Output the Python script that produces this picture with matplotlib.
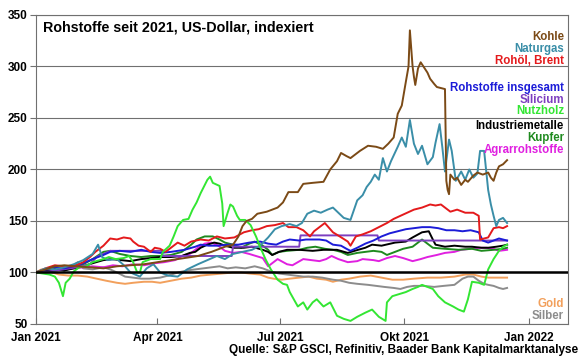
import numpy as np
import matplotlib
matplotlib.use("Agg")
import matplotlib.pyplot as plt

plt.rcParams['font.family'] = ['Liberation Sans', 'DejaVu Sans']

# (days since 2021-01-01, index value)
kohle = [(0,100),(7,103),(14,106),(21,107),(30,106),(40,105),(50,104),(60,106),(80,108),(100,112),
         (120,116),(130,120),(140,125),(146,127),(150,135),(153,145),(156,150),(160,152),(164,157),
         (171,159),(179,163),(183,168),(187,178),(194,178),(198,186),(205,187),(213,188),(218,200),
         (223,208),(226,216),(230,213),(233,211),(240,218),(246,223),(252,222),(257,220),(261,225),
         (265,231),(268,254),(271,262),(274,285),(276,300),(277,335),(279,300),(280,290),(281,282),
         (283,298),(285,304),(287,300),(290,294),(292,288),(295,283),(297,280),(300,279),(303,278),
         (304,189),(305,180),(306,176),(307,195),(310,190),(312,192),(315,185),(318,190),(320,188),
         (324,194),(327,197),(331,195),(335,197),(337,192),(339,189),(341,197),(343,203),(346,205),
         (349,209)]
naturgas = [(0,100),(7,104),(14,103),(21,105),(28,108),(35,112),(42,118),(46,127),(49,115),(53,112),
            (60,113),(66,106),(70,100),(77,96),(82,104),(87,108),(92,100),(98,97),(105,96),(112,103),
            (120,108),(127,112),(134,116),(140,113),(146,118),(153,120),(160,122),(166,126),(172,134),
            (177,142),(182,145),(188,147),(193,145),(197,148),(201,157),(206,160),(211,158),(216,161),
            (220,163),(224,158),(228,153),(233,151),(238,170),(242,175),(245,183),(248,188),(251,195),
            (254,190),(257,211),(260,198),(263,208),(268,222),(271,231),(274,222),(277,248),(280,225),
            (283,215),(286,223),(290,205),(294,212),(296,226),(299,244),(301,222),(303,198),(306,229),
            (308,218),(311,189),(315,198),(318,190),(321,200),(324,192),(327,196),(329,218),(332,218),
            (335,180),(337,166),(339,155),(341,145),(343,151),(346,153),(349,148)]
brent = [(0,100),(7,104),(14,107),(21,106),(28,106),(35,110),(40,115),(44,120),(50,126),(55,133),
         (60,132),(65,134),(70,133),(72,130),(76,126),(80,125),(85,120),(88,124),(92,123),(96,120),
         (100,124),(105,129),(110,126),(115,130),(122,132),(128,131),(134,135),(140,133),(147,134),
         (154,139),(160,141),(165,142),(171,145),(177,146),(183,148),(187,144),(193,144),(198,141),
         (203,135),(206,140),(211,145),(214,148),(220,139),(225,135),(231,130),(233,126),(237,135),
         (242,137),(248,140),(254,144),(260,148),(265,152),(270,155),(275,158),(280,161),(286,163),
         (292,166),(296,165),(300,166),(304,162),(307,159),(312,161),(318,158),(324,158),(328,155),
         (329,132),(332,133),(335,134),(339,143),(343,144),(346,143),(349,145)]
gesamt = [(0,100),(7,103),(14,105),(21,104),(28,106),(35,109),(42,113),(50,117),(55,120),(62,121),
          (70,120),(78,122),(85,120),(92,119),(100,120),(110,122),(118,125),(122,127),(128,126),
          (135,126),(142,127),(150,127),(158,129),(166,130),(172,128),(178,127),(183,130),(188,132),
          (195,131),(200,132),(210,132),(215,131),(220,127),(226,126),(230,123),(233,121),(238,124),
          (244,128),(250,131),(256,135),(262,138),(268,140),(274,142),(280,143),(286,144),(292,144),
          (298,143),(304,141),(310,141),(316,140),(322,141),(328,139),(331,131),(335,129),(339,131),
          (343,133),(346,132),(349,131)]
silicium = [(0,100),(10,101),(20,103),(30,105),(40,108),(45,115),(50,118),(55,121),(93,121),(94,116),
            (145,116),(146,125),(195,125),(196,136),(253,136),(254,131),(349,131)]
nutzholz = [(0,100),(5,99),(10,98),(14,96),(17,90),(20,77),(22,90),(25,94),(28,101),(32,105),(37,106),
            (42,110),(50,113),(54,115),(59,113),(65,114),(69,116),(72,110),(75,100),(77,100),(79,110),
            (85,113),(92,113),(94,120),(99,126),(102,135),(105,145),(109,151),(113,152),(116,161),
            (119,168),(122,177),(127,190),(129,193),(131,187),(136,184),(138,167),(139,145),(142,158),
            (144,166),(146,164),(149,155),(151,151),(155,151),(159,146),(163,135),(166,125),(170,113),
            (174,103),(179,93),(183,89),(186,88),(188,81),(191,74),(194,67),(198,71),(201,64),(205,71),
            (208,74),(213,67),(218,71),(223,58),(228,55),(233,53),(238,57),(244,61),(249,64),(254,57),
            (259,53),(260,71),(264,77),(269,79),(274,81),(279,84),(283,86),(286,88),(290,86),(294,84),
            (298,77),(303,71),(309,67),(313,64),(317,62),(320,74),(323,91),(328,90),(332,88),(335,103),
            (339,113),(343,121),(346,125),(349,127)]
industrie = [(0,100),(7,102),(14,103),(21,102),(28,104),(35,106),(42,109),(50,112),(56,113),(63,112),
             (70,111),(78,113),(85,114),(92,115),(100,115),(108,116),(114,119),(118,120),(122,124),
             (127,127),(132,129),(136,128),(140,126),(146,124),(154,124),(160,125),(168,122),(172,120),
             (175,117),(180,120),(186,122),(195,122),(205,121),(213,122),(223,122),(231,119),(236,121),
             (244,124),(249,127),(256,126),(266,129),(274,130),(279,134),(286,139),(291,140),(294,132),
             (296,127),(303,125),(310,126),(318,125),(323,125),(330,124),(335,124),(341,125),(346,126),
             (349,127)]
kupfer = [(0,100),(7,103),(14,104),(21,102),(28,105),(35,108),(42,113),(50,120),(55,121),(62,118),
          (70,116),(78,115),(85,116),(92,116),(100,117),(108,120),(115,127),(119,132),(125,135),
          (131,135),(136,132),(140,129),(146,127),(152,124),(158,128),(162,130),(168,126),(172,122),
          (175,117),(180,120),(186,121),(195,122),(201,124),(207,125),(214,123),(220,122),(226,120),
          (231,117),(238,119),(244,120),(250,121),(256,120),(260,117),(266,120),(272,123),(279,125),
          (286,132),(290,128),(294,124),(303,123),(313,122),(323,123),(330,121),(339,122),(346,123),
          (349,124)]
agrar = [(0,100),(7,102),(14,104),(21,103),(28,104),(35,105),(42,106),(50,105),(57,107),(64,106),
         (72,108),(80,107),(88,109),(95,110),(103,112),(110,117),(114,118),(120,124),(125,128),
         (130,129),(135,126),(140,121),(146,119),(152,120),(158,118),(163,116),(168,114),(172,106),
         (176,110),(179,113),(186,108),(190,107),(198,113),(204,112),(210,111),(215,113),(219,116),
         (224,113),(231,110),(238,111),(242,113),(250,112),(254,111),(260,114),(266,116),(272,114),
         (279,111),(285,113),(290,115),(297,117),(303,119),(310,120),(315,122),(322,123),(328,124),
         (334,124),(339,123),(343,121),(349,122)]
gold = [(0,100),(4,103),(10,101),(17,98),(24,97),(31,97),(38,96),(45,94),(52,92),(60,90),(66,89),
        (72,90),(80,91),(86,91),(92,90),(100,92),(108,94),(115,95),(122,97),(130,98),(138,99),
        (146,100),(152,100),(158,99),(166,98),(172,95),(176,94),(182,93),(188,94),(195,95),(202,96),
        (208,94),(215,93),(220,91),(226,93),(232,94),(240,96),(248,97),(256,95),(264,93),(272,93),
        (280,94),(290,95),(300,95),(310,96),(318,98),(324,98),(330,96),(335,95),(342,95),(349,95)]
silber = [(0,100),(7,103),(14,102),(21,103),(28,107),(31,110),(35,104),(42,103),(50,105),(55,103),
          (60,100),(66,96),(72,95),(78,94),(84,94),(92,95),(98,97),(105,100),(112,102),(118,103),
          (124,104),(130,105),(136,106),(142,104),(148,105),(155,104),(162,106),(168,104),(174,101),
          (180,99),(186,98),(192,97),(198,96),(205,96),(212,95),(220,93),(226,92),(232,90),(238,89),
          (246,88),(252,87),(258,86),(265,85),(270,84),(275,86),(280,87),(287,87),(295,86),(302,87),
          (310,88),(316,94),(320,96),(324,96),(328,92),(332,89),(335,88),(339,87),(343,85),(346,84),
          (349,85)]

names_top = ["Kohle", "Naturgas", "Rohöl, Brent", "Rohstoffe insgesamt", "Silicium", "Nutzholz",
             "Industriemetalle", "Kupfer", "Agrarrohstoffe"]
names_bottom = ["Gold", "Silber"]
tick_labels = ["Jan 2021", "Apr 2021", "Jul 2021", "Okt 2021", "Jan 2022"]
tick_dates = ["2021-01-01", "2021-04-01", "2021-07-01", "2021-10-01", "2022-01-01"]

colors = {
    "Kohle": "#7b4a16", "Naturgas": "#3a8ea8", "Rohöl, Brent": "#e41a1c",
    "Rohstoffe insgesamt": "#1c1cd8", "Silicium": "#7d3fc0", "Nutzholz": "#33e633",
    "Industriemetalle": "#000000", "Kupfer": "#1f8a1f", "Agrarrohstoffe": "#e020e0",
    "Gold": "#f2a05c", "Silber": "#8c8c8c",
}
series = {"Kohle": kohle, "Naturgas": naturgas, "Rohöl, Brent": brent,
          "Rohstoffe insgesamt": gesamt, "Silicium": silicium, "Nutzholz": nutzholz,
          "Industriemetalle": industrie, "Kupfer": kupfer, "Agrarrohstoffe": agrar,
          "Gold": gold, "Silber": silber}
draw_order = ["Gold", "Silber", "Agrarrohstoffe", "Kupfer", "Industriemetalle", "Silicium",
              "Rohstoffe insgesamt", "Rohöl, Brent", "Naturgas", "Nutzholz", "Kohle"]

base = np.datetime64("2021-01-01")

fig = plt.figure(figsize=(5.8, 3.59), dpi=100)
ax = fig.add_axes([0.062, 0.0975, 0.917, 0.861])

for y in range(50, 351, 50):
    ax.axhline(y, color="#707070", lw=0.8, zorder=1)

for name in draw_order:
    d, v = zip(*series[name])
    dates = base + np.array(d).astype("timedelta64[D]")
    ax.plot(dates, v, color=colors[name], lw=1.4, zorder=3)

ax.axhline(100, color="black", lw=1.8, zorder=4)

ax.set_ylim(50, 350)
ax.set_yticks(range(50, 351, 50))
ax.set_xlim(np.datetime64("2021-01-01"), np.datetime64("2022-01-30"))
ax.set_xticks([np.datetime64(t) for t in tick_dates])
ax.set_xticklabels(tick_labels)
for lab in ax.get_xticklabels() + ax.get_yticklabels():
    lab.set_fontweight("bold")
    lab.set_fontsize(8.5)
ax.tick_params(axis="x", direction="in", length=4, color="#707070", pad=6)
ax.tick_params(axis="y", direction="out", length=4, color="#707070", pad=2)
for s in ax.spines.values():
    s.set_color("#707070")
    s.set_linewidth(0.8)

fig.text(43 / 580, 1 - 27 / 359, "Rohstoffe seit 2021, US-Dollar, indexiert",
         fontsize=10.3, fontweight="bold", va="center", ha="left")

top_y = [36.7, 49, 61, 88, 100, 111.5, 126, 137.7, 150]
for name, yp in zip(names_top, top_y):
    fig.text(564 / 580, 1 - yp / 359, name, color=colors[name], fontsize=8.3,
             fontweight="bold", ha="right", va="center")
for name, yp in zip(names_bottom, [304, 316]):
    fig.text(564 / 580, 1 - yp / 359, name, color=colors[name], fontsize=8.3,
             fontweight="bold", ha="right", va="center")

fig.text(578 / 580, 1 - 350 / 359, "Quelle: S&P GSCI, Refinitiv, Baader Bank Kapitalmarktanalyse",
         fontsize=8.5, fontweight="bold", ha="right", va="center")

fig.savefig("out.png", dpi=100)
